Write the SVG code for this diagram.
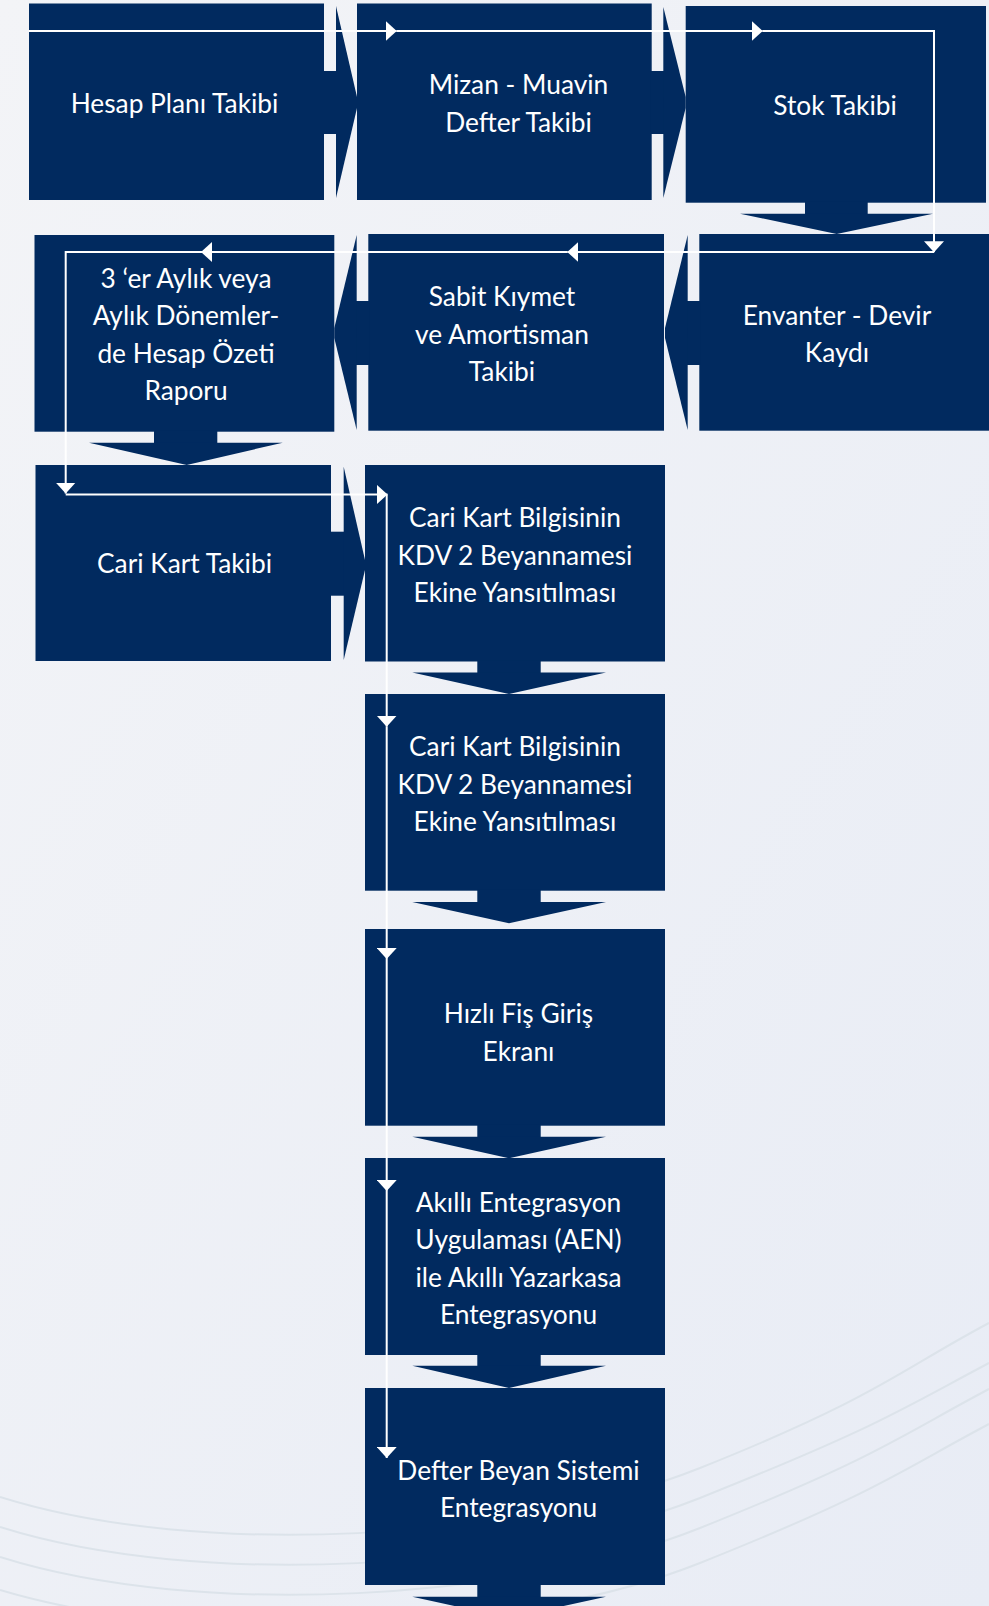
<svg xmlns="http://www.w3.org/2000/svg" width="989" height="1606" viewBox="0 0 989 1606">
<defs>
<linearGradient id="bg" x1="0" y1="0" x2="1" y2="1">
<stop offset="0" stop-color="#f3f4f7"/>
<stop offset="1" stop-color="#e8ecf5"/>
</linearGradient>
<marker id="ah" viewBox="0 0 11 20" refX="11" refY="10" markerWidth="11" markerHeight="20" markerUnits="userSpaceOnUse" orient="auto">
<path d="M0,0 L11,10 L0,20 z" fill="#ffffff"/>
</marker>
<style>
.box{fill:#012a5f}
.t{font-family:Lato,"Noto Sans","Liberation Sans",sans-serif;font-size:26.3px;font-weight:400;fill:#ffffff;text-anchor:middle}
.arc{fill:none;stroke:#dce3ea;stroke-width:2}
.con{fill:none;stroke:#ffffff;stroke-width:2;marker-end:url(#ah)}
</style>
</defs>
<rect width="989" height="1606" fill="url(#bg)"/>
<g id="background-arcs">
<path class="arc" d="M0,1497 C200,1560 520,1540 700,1468 S900,1370 989,1323"/>
<path class="arc" d="M0,1527 C200,1590 520,1570 700,1498 S900,1410 989,1363"/>
<path class="arc" d="M0,1557 C200,1620 520,1600 700,1528 S900,1436 989,1389"/>
<path class="arc" d="M0,1590 C200,1650 520,1635 700,1563 S900,1471 989,1424"/>
</g>
<g id="n-hesap">
<rect class="box" x="29" y="3.5" width="295" height="196.5"/>
<rect class="box" x="323" y="71" width="14" height="63"/>
<polygon class="box" points="336,6 357,97 357,108 336,198"/>
<text class="t" x="174.5" y="113">Hesap Planı Takibi</text>
</g>
<g id="n-mizan">
<rect class="box" x="357" y="3.5" width="294.7" height="196.5"/>
<rect class="box" x="650.7" y="71" width="13.6" height="63"/>
<polygon class="box" points="663.3,7 685.7,97 685.7,108 663.3,198"/>
<text class="t" x="518.5" y="94">Mizan - Muavin</text>
<text class="t" x="518.5" y="131.5">Defter Takibi</text>
</g>
<g id="n-stok">
<rect class="box" x="685.7" y="6" width="300.3" height="196.7"/>
<rect class="box" x="805" y="201.7" width="62.7" height="13"/>
<polygon class="box" points="740,213.7 933,213.7 836.7,234"/>
<text class="t" x="835" y="115">Stok Takibi</text>
</g>
<g id="n-envanter">
<rect class="box" x="699.3" y="234" width="289.7" height="196.7"/>
<rect class="box" x="686.7" y="301" width="13.6" height="64"/>
<polygon class="box" points="687.7,235 665,328 665,338 687.7,430"/>
<text class="t" x="837" y="325">Envanter - Devir</text>
<text class="t" x="837" y="362">Kaydı</text>
</g>
<g id="n-sabit">
<rect class="box" x="368.3" y="234" width="295.7" height="196.7"/>
<rect class="box" x="355.7" y="301" width="13.6" height="64"/>
<polygon class="box" points="356.7,235 334.3,328 334.3,338 356.7,430"/>
<text class="t" x="502" y="306">Sabit Kıymet</text>
<text class="t" x="502" y="343.5">ve Amortisman</text>
<text class="t" x="502" y="381">Takibi</text>
</g>
<g id="n-donem">
<rect class="box" x="34.5" y="235" width="299.8" height="196.7"/>
<rect class="box" x="154" y="430.7" width="63.3" height="13"/>
<polygon class="box" points="89,442.7 282.7,442.7 186.7,465"/>
<text class="t" x="186" y="287.7">3 ‘er Aylık veya</text>
<text class="t" x="186" y="325">Aylık Dönemler-</text>
<text class="t" x="186" y="362.5">de Hesap Özeti</text>
<text class="t" x="186" y="399.5">Raporu</text>
</g>
<g id="n-cari">
<rect class="box" x="35.5" y="465" width="295.5" height="196"/>
<rect class="box" x="330" y="531.7" width="14.7" height="64"/>
<polygon class="box" points="343.7,466.7 365,560 365,570 343.7,660"/>
<text class="t" x="184.5" y="573">Cari Kart Takibi</text>
</g>
<g id="n-kdv1">
<rect class="box" x="365" y="465" width="300" height="196.5"/>
<rect class="box" x="477.3" y="660.5" width="63.4" height="13"/>
<polygon class="box" points="412.3,672.5 606,672.5 509,694"/>
<text class="t" x="515" y="527.3">Cari Kart Bilgisinin</text>
<text class="t" x="515" y="564.8">KDV 2 Beyannamesi</text>
<text class="t" x="515" y="602.3">Ekine Yansıtılması</text>
</g>
<g id="n-kdv2">
<rect class="box" x="365" y="694" width="300" height="196.7"/>
<rect class="box" x="477.3" y="889.7" width="63.4" height="13.3"/>
<polygon class="box" points="412.3,902 606,902 509,923.3"/>
<text class="t" x="515" y="756">Cari Kart Bilgisinin</text>
<text class="t" x="515" y="793.5">KDV 2 Beyannamesi</text>
<text class="t" x="515" y="831">Ekine Yansıtılması</text>
</g>
<g id="n-hizli">
<rect class="box" x="365" y="929" width="300" height="196.7"/>
<rect class="box" x="477.3" y="1124.7" width="63.4" height="12.3"/>
<polygon class="box" points="412.3,1136.7 606,1136.7 509,1158.3"/>
<text class="t" x="518.5" y="1023.3">Hızlı Fiş Giriş</text>
<text class="t" x="518.5" y="1061">Ekranı</text>
</g>
<g id="n-akilli">
<rect class="box" x="365" y="1158" width="300" height="197"/>
<rect class="box" x="477.3" y="1354" width="63.4" height="12"/>
<polygon class="box" points="412.3,1365.7 606,1365.7 509,1388"/>
<text class="t" x="518.5" y="1211.7">Akıllı Entegrasyon</text>
<text class="t" x="518.5" y="1249.2">Uygulaması (AEN)</text>
<text class="t" x="518.5" y="1286.7">ile Akıllı Yazarkasa</text>
<text class="t" x="518.5" y="1324">Entegrasyonu</text>
</g>
<g id="n-defter">
<rect class="box" x="365" y="1388" width="300" height="197"/>
<rect class="box" x="477.3" y="1584" width="63.4" height="13"/>
<polygon class="box" points="412.3,1596.7 606,1596.7 509,1618"/>
<text class="t" x="518.5" y="1480">Defter Beyan Sistemi</text>
<text class="t" x="518.5" y="1517">Entegrasyonu</text>
</g>
<g id="connectors">
<path class="con" d="M29,31 H396.7"/>
<path class="con" d="M396.7,31 H762.7"/>
<path class="con" d="M762.7,31 H934 V252.3"/>
<path class="con" d="M934,252 H567.3"/>
<path class="con" d="M567.3,252 H201"/>
<path class="con" d="M201,252 H65.7 V493.5"/>
<path class="con" d="M65.7,494.5 H387.5"/>
<path class="con" d="M386.7,494.5 V726.7"/>
<path class="con" d="M386.7,726.7 V959"/>
<path class="con" d="M386.7,959 V1191"/>
<path class="con" d="M386.7,1191 V1458"/>
</g>
</svg>
